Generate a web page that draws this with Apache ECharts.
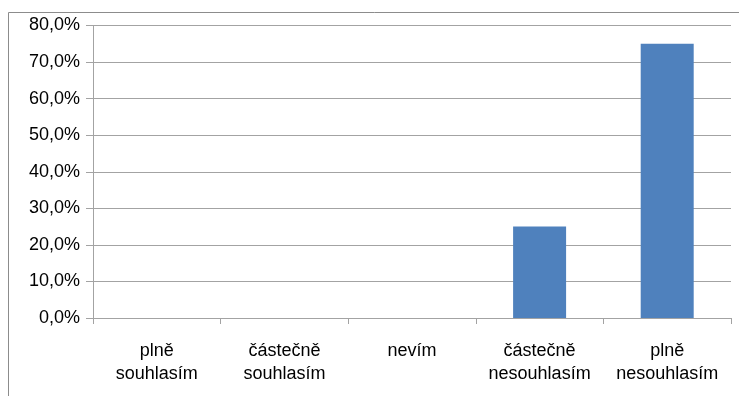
<!DOCTYPE html>
<html>
<head>
<meta charset="utf-8">
<script src="https://cdn.jsdelivr.net/npm/echarts@6/dist/echarts.min.js"></script>
<style>
  html, body { margin: 0; padding: 0; background: #fff; }
  #chart { width: 739px; height: 396px; }
</style>
</head>
<body>
<div id="chart"></div>
<script>
// Answer categories (two-line labels) and their shares in percent
const categories = ['plně\nsouhlasím', 'částečně\nsouhlasím', 'nevím', 'částečně\nnesouhlasím', 'plně\nnesouhlasím'];
const shares = [0, 0, 0, 25, 75];
const yTicks = [0, 10, 20, 30, 40, 50, 60, 70, 80];

const fontFamily = '"Liberation Sans", Arial, sans-serif';
const gridGray = '#a3a3a3';

const chart = echarts.init(document.getElementById('chart'), null, { renderer: 'canvas' });

chart.setOption({
  animation: false,
  backgroundColor: '#ffffff',
  graphic: [{
    type: 'rect',
    shape: { x: 8.5, y: 12.5, width: 800, height: 500 },
    style: { fill: 'none', stroke: '#8c8c8c', lineWidth: 1 },
    silent: true
  }],
  grid: { left: 93, top: 25.5, right: 8, bottom: 78, containLabel: false },
  xAxis: {
    type: 'category',
    data: categories,
    axisLine: { show: true, lineStyle: { color: gridGray, width: 1 } },
    axisTick: { show: true, length: 6, lineStyle: { color: gridGray } },
    axisLabel: {
      interval: 0,
      margin: 21,
      color: '#000',
      fontFamily: fontFamily,
      fontSize: 18,
      lineHeight: 23.5
    },
    splitLine: { show: false }
  },
  yAxis: {
    type: 'value',
    min: yTicks[0],
    max: yTicks[yTicks.length - 1],
    interval: yTicks[1] - yTicks[0],
    axisLine: { show: true, lineStyle: { color: gridGray, width: 1 } },
    axisTick: { show: true, length: 7, lineStyle: { color: gridGray } },
    axisLabel: {
      margin: 13,
      color: '#000',
      fontFamily: fontFamily,
      fontSize: 18,
      formatter: v => v.toFixed(1).replace('.', ',') + '%'
    },
    splitLine: { show: true, lineStyle: { color: gridGray, width: 1 } }
  },
  series: [{
    type: 'bar',
    data: shares,
    barWidth: 53,
    itemStyle: { color: '#4f81bd' }
  }]
});
</script>
</body>
</html>
